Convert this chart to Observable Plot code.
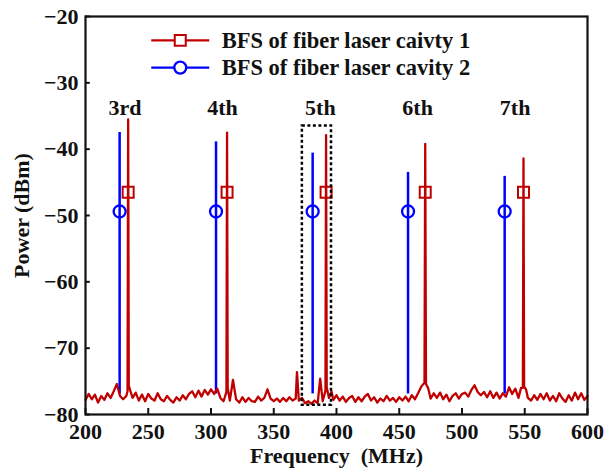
<!DOCTYPE html>
<html>
<head>
<meta charset="utf-8">
<script src="https://cdn.jsdelivr.net/npm/d3@7"></script>
<script src="https://cdn.jsdelivr.net/npm/@observablehq/plot@0.6"></script>
<style>
  html, body { margin: 0; padding: 0; background: #fff; }
  #chart { width: 604px; height: 472px; }
</style>
</head>
<body>
<div id="chart"></div>
<script>
// ---- data ----
const harmonics = ["3rd", "4th", "5th", "6th", "7th"];
const cav1PeakFreq = [234.0, 312.8, 391.7, 470.7, 549.0];
const cav1PeakDb   = [-35.5, -37.5, -37.9, -39.2, -41.4];
const cav2PeakFreq = [227.2, 304.0, 381.0, 457.0, 534.0];
const cav2PeakDb   = [-37.5, -38.9, -40.6, -43.5, -44.1];
const cav1MarkerDb = -46.5;
const cav2MarkerDb = -49.4;
const cav2FloorDb = -76.9;
const seriesNames = ["BFS of fiber laser caivty 1", "BFS of fiber laser cavity 2"];

// base of each cavity-1 peak (MHz, dBm)
const peakBaseFreq = [233.5, 234.5, 312.3, 313.3, 391.2, 392.2, 470.1, 471.3, 548.5, 549.5];
const peakBaseDb   = [-76.5, -75.6, -76.6, -76.0, -76.4, -75.9, -75.2, -75.4, -76.0, -75.8];

// noise floor of the cavity-1 trace (MHz, dBm)
const noiseFreq = [
  200,202.5,205,207.5,210,212.5,215,217.5,220,222.5,225,227.5,230,232.5,235,237.5,240,242.5,245,247.5,
  250,252.5,255,257.5,260,262.5,265,267.5,270,272.5,275,277.5,280,282.5,285,287.5,290,292.5,295,297.5,
  300,302.5,305,307.5,310,315,317.5,320,322.5,325,327.5,330,332.5,335,337.5,340,342.5,345,347.5,
  350,352.5,355,357.5,360,362.5,365,367.5,368.5,370,372.5,375,377.5,380,382.5,385,387,389,394,396,397.5,
  400,402.5,405,407.5,410,412.5,415,417.5,420,422.5,425,427.5,430,432.5,435,437.5,440,442.5,445,447.5,
  450,452.5,455,457.5,460,462.5,465,467.5,473,475,477.5,480,482.5,485,487.5,490,492.5,495,497.5,
  500,502.5,505,507.5,510,512.5,515,517.5,520,522.5,525,527.5,530,532.5,535,537.5,540,542.5,545,547,
  551,552.5,555,557.5,560,562.5,565,567.5,570,572.5,575,577.5,580,582.5,585,587.5,590,592.5,595,597.5,600
];
const noiseDb = [
  -77.8,-76.9,-77.7,-77.0,-78.2,-77.2,-77.8,-76.8,-77.5,-76.5,-75.4,-77.2,-77.7,-77.2,-76.0,-77.5,-76.7,-77.9,-77.0,-78.0,
  -76.9,-77.6,-77.9,-76.8,-77.7,-78.0,-77.2,-77.8,-78.2,-77.4,-77.9,-77.1,-77.7,-76.9,-76.5,-77.4,-76.4,-77.3,-76.3,-77.0,
  -76.2,-76.9,-76.1,-77.5,-78.0,-77.9,-74.8,-77.7,-78.2,-77.4,-78.1,-77.5,-78.0,-78.1,-77.3,-77.9,-77.5,-76.2,-77.6,
  -78.0,-77.6,-78.1,-77.5,-78.0,-77.4,-77.9,-77.6,-73.6,-77.9,-77.5,-78.3,-78.0,-78.4,-77.9,-78.3,-74.6,-78.0,-77.5,-76.5,-77.8,
  -77.1,-77.9,-77.3,-78.1,-77.5,-77.2,-78.1,-77.4,-78.0,-77.3,-76.9,-77.9,-77.4,-78.2,-77.6,-78.0,-77.2,-77.9,-77.5,-78.1,
  -77.4,-77.9,-77.3,-78.0,-77.1,-77.7,-76.8,-75.8,-76.0,-77.6,-76.8,-77.5,-76.7,-77.7,-77.0,-78.0,-77.2,-76.8,-77.6,
  -76.9,-76.7,-77.3,-76.3,-75.6,-76.6,-77.1,-76.6,-77.4,-76.5,-77.5,-76.7,-77.6,-76.8,-77.3,-75.9,-76.9,-76.1,-77.5,-76.0,
  -76.2,-77.5,-77.9,-77.1,-77.8,-76.9,-77.7,-76.8,-77.9,-77.2,-78.0,-76.8,-77.6,-78.1,-77.1,-77.9,-76.7,-77.7,-76.8,-77.8,-77.2
];
const xTicks = [200, 250, 300, 350, 400, 450, 500, 550, 600];
const yTicks = [-80, -70, -60, -50, -40, -30, -20];

// ---- build tables ----
const trace = noiseFreq.map((f, i) => ({f, db: noiseDb[i]}))
  .concat(peakBaseFreq.map((f, i) => ({f, db: peakBaseDb[i]})))
  .concat(cav1PeakFreq.map((f, i) => ({f, db: cav1PeakDb[i]})))
  .sort((a, b) => a.f - b.f);
const cav1 = cav1PeakFreq.map((f, i) => ({f, db: cav1PeakDb[i]}));
const cav2 = cav2PeakFreq.map((f, i) => ({f, db: cav2PeakDb[i]}));
const labels = harmonics.map((h, i) => ({h, f: (cav1PeakFreq[i] + cav2PeakFreq[i]) / 2}));

const RED = "#c00000", BLUE = "#0000ff";
const FONT = "'Liberation Serif', 'Times New Roman', serif";
const minus = d => d < 0 ? "\u2212" + Math.abs(d) : String(d);

// legend placement (data coordinates)
const legY = [-23.6, -27.7];
const legX1 = 252.8, legX2 = 299, legXm = 275.5, legXt = 308.5;

const chart = Plot.plot({
  width: 604, height: 472,
  marginLeft: 85, marginRight: 17, marginTop: 16, marginBottom: 58,
  style: {fontFamily: FONT, fontWeight: "bold", background: "#fff", color: "#111"},
  x: {domain: [200, 600]},
  y: {domain: [-80, -20]},
  marks: [
    // axes
    Plot.axisX({ticks: xTicks, tickSize: 0, tickPadding: 9, tickFormat: d => String(d), fontSize: 22,
      label: "Frequency  (MHz)", labelAnchor: "center", labelArrow: "none", labelOffset: 48}),
    Plot.axisY({ticks: yTicks, tickSize: 0, tickPadding: 7, tickFormat: minus, fontSize: 22,
      label: "Power (dBm)", labelAnchor: "center", labelArrow: "none", labelOffset: 72}),
    Plot.ruleX(xTicks, {x: d => d, y1: -80, y2: -79.1, stroke: "#111", strokeWidth: 2}),
    Plot.ruleY(yTicks, {y: d => d, x1: 200, x2: 203.8, stroke: "#111", strokeWidth: 2}),
    // cavity 2 peaks (blue)
    Plot.ruleX(cav2, {x: "f", y1: cav2FloorDb, y2: "db", stroke: BLUE, strokeWidth: 2.5}),
    // cavity 1 trace (red)
    Plot.line(trace, {x: "f", y: "db", stroke: RED, strokeWidth: 2.3, curve: "linear"}),
    // markers
    Plot.dot(cav1, {x: "f", y: () => cav1MarkerDb, symbol: "square", r: 6.2, stroke: RED, strokeWidth: 2, fill: "none"}),
    Plot.dot(cav2, {x: "f", y: () => cav2MarkerDb, symbol: "circle", r: 6, stroke: BLUE, strokeWidth: 2.3, fill: "none"}),
    // dashed box around 5th
    Plot.rect([0], {x1: 372.8, x2: 396, y1: -78.6, y2: -36.5, stroke: "#000", strokeWidth: 2.5, strokeDasharray: "3,2.5", fill: "none"}),
    // harmonic labels
    Plot.text(labels, {x: "f", y: () => -33.8, dx: 1, text: "h", fontSize: 22, fontWeight: "bold", fill: "#111"}),
    // legend
    Plot.ruleY([0], {y: () => legY[0], x1: legX1, x2: legX2, stroke: RED, strokeWidth: 2.3}),
    Plot.dot([0], {x: () => legXm, y: () => legY[0], symbol: "square", r: 6.2, stroke: RED, strokeWidth: 2, fill: "#fff"}),
    Plot.ruleY([0], {y: () => legY[1], x1: legX1, x2: legX2, stroke: BLUE, strokeWidth: 2.3}),
    Plot.dot([0], {x: () => legXm, y: () => legY[1], symbol: "circle", r: 6, stroke: BLUE, strokeWidth: 2.3, fill: "#fff"}),
    Plot.text(seriesNames, {x: () => legXt, y: (d, i) => legY[i], text: d => d, textAnchor: "start", fontSize: 22.5, fontWeight: "bold", fill: "#111"}),
    Plot.frame({stroke: "#111", strokeWidth: 2.2})
  ]
});
document.getElementById("chart").appendChild(chart);
</script>
</body>
</html>
